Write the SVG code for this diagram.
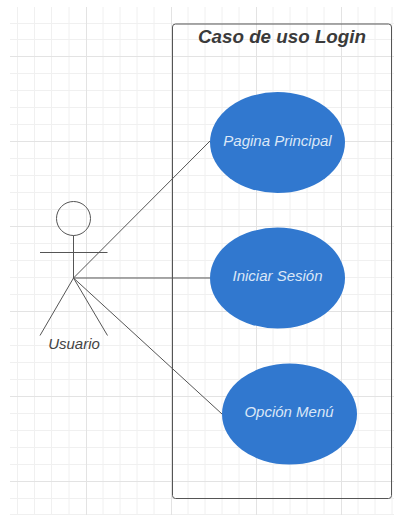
<svg xmlns="http://www.w3.org/2000/svg" width="394" height="515" viewBox="0 0 394 515">
<defs>
<style>
.minor{stroke:#f0f0f0;stroke-width:1;fill:none}
.major{stroke:#e3e3e3;stroke-width:1;fill:none}
.l{stroke:#555;stroke-width:1;fill:none}
.a{stroke:#555;stroke-width:1;fill:none}
.e{fill:#3178cf;stroke:none}
.t{font-family:"Liberation Sans",Arial,sans-serif;font-style:italic;font-size:15px;fill:#dbe7f7;text-anchor:middle}
</style>
</defs>
<rect width="394" height="515" fill="#fff"/>
<g id="grid">
<path class="minor" d="M17.5 7V515M34.5 7V515M51.5 7V515M69 7V515M103 7V515M120 7V515M137 7V515M154 7V515M188 7V515M205 7V515M222 7V515M239 7V515M273 7V515M290 7V515M307 7V515M324 7V515M358 7V515M375 7V515M392 7V515"/>
<path class="minor" d="M10 23.5H394M10 39.5H394M10 73.5H394M10 90.5H394M10 107.5H394M10 124.5H394M10 158.5H394M10 175.5H394M10 192.5H394M10 209.5H394M10 243.5H394M10 260.5H394M10 277.5H394M10 294.5H394M10 328.5H394M10 345.5H394M10 362.5H394M10 379.5H394M10 413.5H394M10 430.5H394M10 447.5H394M10 464.5H394M10 498.5H394M10 514.5H394"/>
<path class="major" d="M86.5 7V515M171.5 7V515M256.5 7V515M341.5 7V515"/>
<path class="major" d="M10 56.5H394M10 141.5H394M10 226.5H394M10 311.5H394M10 396.5H394M10 481.5H394"/>
</g>
<g id="system">
<rect class="l" x="172.500" y="24" width="219" height="474.500" rx="3"/>
<text x="282" y="43" style="font-family:'Liberation Sans',Arial,sans-serif;font-style:italic;font-weight:bold;font-size:18.800px;fill:#3a3a3a;text-anchor:middle">Caso de uso Login</text>
</g>
<g id="connectors">
<path class="a" d="M73.500 278L210 141"/>
<path class="a" d="M73.500 278H210"/>
<path class="a" d="M73.500 278L222 414"/>
</g>
<g id="actor">
<circle class="a" cx="73.500" cy="218.500" r="17"/>
<path class="a" d="M73.500 235.500V278M40 252.500H107.500M73.500 278L40 335.500M73.500 278L107.500 335.500"/>
<text x="74" y="349" style="font-family:'Liberation Sans',Arial,sans-serif;font-style:italic;font-size:15px;fill:#444;text-anchor:middle">Usuario</text>
</g>
<g id="uc1">
<ellipse class="e" cx="277.500" cy="142.500" rx="67.500" ry="50.500"/>
<text class="t" x="277.500" y="145.500">Pagina Principal</text>
</g>
<g id="uc2">
<ellipse class="e" cx="277.500" cy="278" rx="67.500" ry="50.500"/>
<text class="t" x="277.500" y="281">Iniciar Sesión</text>
</g>
<g id="uc3">
<ellipse class="e" cx="289.500" cy="414" rx="67.500" ry="50.500"/>
<text class="t" x="289" y="417">Opción Menú</text>
</g>
</svg>
